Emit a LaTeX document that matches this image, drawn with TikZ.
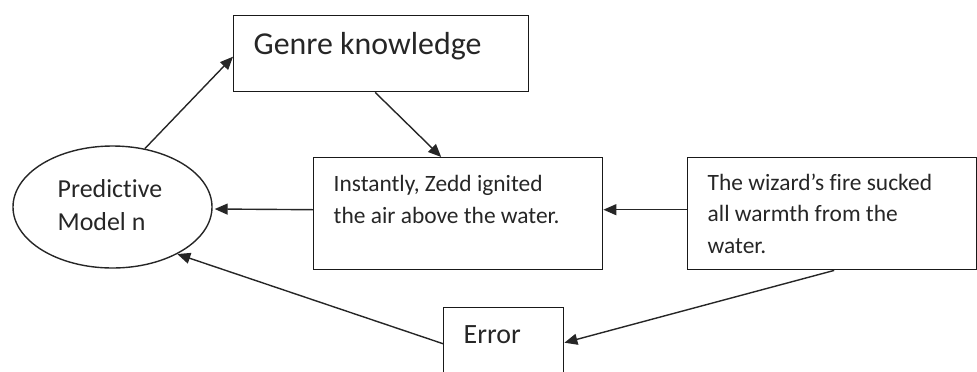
\documentclass[tikz,border=0pt]{standalone}
\usepackage{fontspec}
\setmainfont{Carlito}[Ligatures={NoCommon}]
\usetikzlibrary{arrows.meta,calc,shapes.geometric}
\begin{document}
\begin{tikzpicture}[x=1bp,y=-1bp,
  line width=1.4bp,
  box/.style={draw=black!90, rectangle, inner sep=0pt, anchor=north west},
  txt/.style={anchor=base west, inner sep=0pt, align=left, text=black!85},
  arr/.style={draw=black!85, -{Triangle[length=13bp,width=11bp]}}]
\useasboundingbox (0,0) rectangle (977,371);
% shapes
\node[draw=black!85, ellipse, minimum width=199bp, minimum height=122bp, inner sep=0pt] (pm) at (112.5,207) {};
\node[box, minimum width=295bp, minimum height=76bp] (genre) at (233,15) {};
\node[box, minimum width=289bp, minimum height=112bp] (inst) at (313,157) {};
\node[box, minimum width=289bp, minimum height=112bp] (wiz) at (687,157) {};
\node[box, minimum width=120bp, minimum height=70bp] (err) at (443,307) {};
% texts (anchored at the baseline of the last line)
\node[txt, font=\fontsize{26}{33}\selectfont] (pmtxt) at (57,230) {Predictive\\Model n};
\node[txt, font=\fontsize{32}{36}\selectfont] (gtxt) at (253,54) {Genre knowledge};
\node[txt, font=\fontsize{23.5}{31.5}\selectfont] (itxt) at (333,223) {Instantly, Zedd ignited\\the air above the water.};
\node[txt, font=\fontsize{23.5}{31.5}\selectfont] (wtxt) at (707,253) {The wizard’s fire sucked\\all warmth from the\\water.};
\node[txt, font=\fontsize{28}{33}\selectfont] (etxt) at (463,343) {Error};
% connectors
\draw[arr] (pm.61) -- ($(genre.west)+(0,3)$);
\draw[arr] ($(genre.south)+(-6,0)$) -- ($(inst.north)+(-17,0)$);
\draw[arr] ($(inst.west)+(0,-4)$) -- ($(pm.east)+(2,2)$);
\draw[arr] ($(wiz.west)+(0,-4)$) -- ($(inst.east)+(0,-4)$);
\draw[arr] ($(wiz.south)+(2,0)$) -- (err.east);
\draw[arr] ($(err.west)+(0,1)$) -- (pm.-36);
\end{tikzpicture}
\end{document}
